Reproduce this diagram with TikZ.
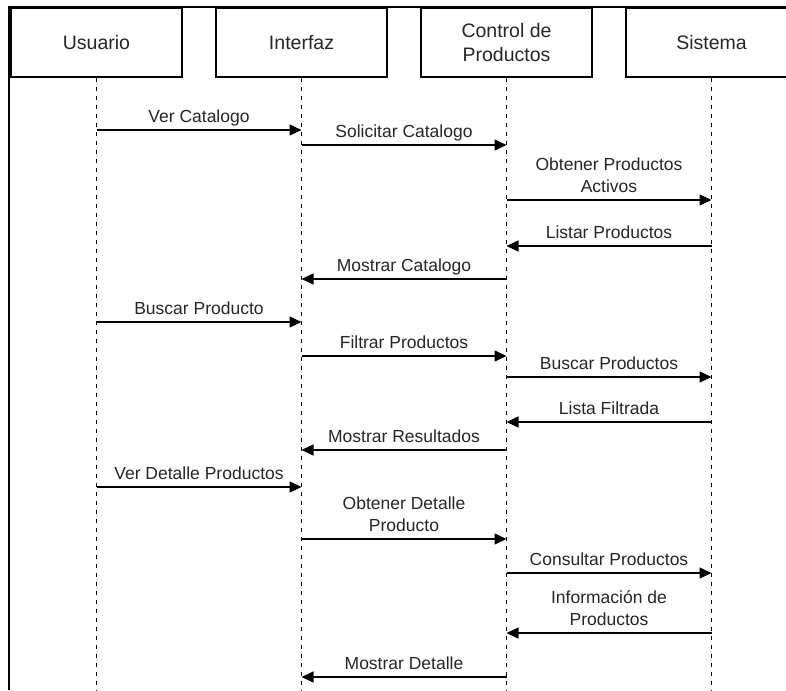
\documentclass[tikz,border=0pt]{standalone}
\usepackage{fontspec}
\setmainfont{Liberation Sans}
\usetikzlibrary{arrows.meta}

\tikzset{
  caja/.style={draw, line width=1.2pt, minimum width=171pt, minimum height=69pt,
    align=center, inner sep=0pt, font=\fontsize{19.5}{24.5}\selectfont, text=black!85},
  vida/.style={dash pattern=on 4.5pt off 4.5pt, line width=1pt},
  mensaje/.style={line width=1.5pt, -{Triangle[length=12pt,width=11pt]}},
  etiqueta/.style={anchor=south, inner sep=0pt, align=center, text depth=4pt,
    yshift=3pt, font=\fontsize{17.5}{22}\selectfont, text=black!85}
}

\begin{document}
\begin{tikzpicture}[x=1pt, y=-1pt]
    \useasboundingbox (0,0) rectangle (786,690);
    \clip (0,0) rectangle (786,690);

    % Participantes
    \node[caja] (usr) at (96.5,42.5) {Usuario};
    \node[caja] (ifz) at (301.5,42.5) {Interfaz};
    \node[caja] (ctl) at (506.5,42.5) {Control de\\Productos};
    \node[caja] (sis) at (711.5,42.5) {Sistema};

    % Lineas de vida
    \foreach \p in {usr, ifz, ctl, sis}
        \draw[vida] (\p.south) -- (\p |- 0,690);

    % Marco del diagrama
    \draw[line width=2.5pt] (9,690) -- (9,7) -- (786,7);

    % Mensajes (origen/destino/altura/texto)
    \foreach \a/\b/\y/\txt [count=\i] in {
        usr/ifz/130/{Ver Catalogo},
        ifz/ctl/145/{Solicitar Catalogo},
        ctl/sis/200/{Obtener Productos\\Activos},
        sis/ctl/246/{Listar Productos},
        ctl/ifz/279/{Mostrar Catalogo},
        usr/ifz/322/{Buscar Producto},
        ifz/ctl/356/{Filtrar Productos},
        ctl/sis/377/{Buscar Productos},
        sis/ctl/422/{Lista Filtrada},
        ctl/ifz/450/{Mostrar Resultados},
        usr/ifz/487/{Ver Detalle Productos},
        ifz/ctl/539/{Obtener Detalle\\Producto},
        ctl/sis/573/{Consultar Productos},
        sis/ctl/633/{Información de\\Productos},
        ctl/ifz/677/{Mostrar Detalle}}
        \draw[mensaje] (\a |- 0,\y) -- (\b |- 0,\y)
            node[etiqueta, midway] (m\i) {\txt};

\end{tikzpicture}
\end{document}
